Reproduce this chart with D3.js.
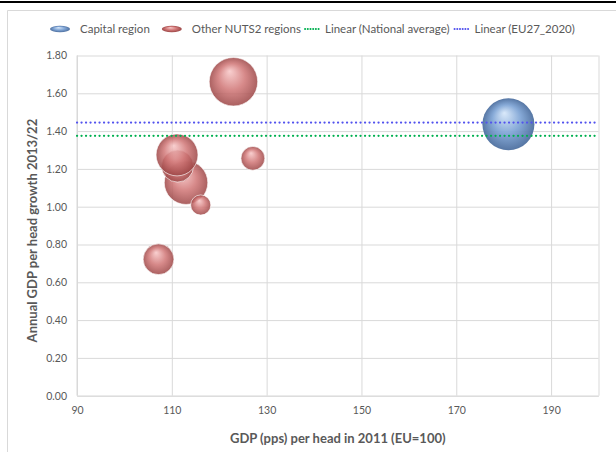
<!DOCTYPE html>
<html lang="en">
<head>
<meta charset="UTF-8">
<title>GDP growth bubbles</title>
<script src="https://cdn.jsdelivr.net/npm/d3@7"></script>
<style>
    body { margin: 0; background: #fff; }
    svg text { font-family: Lato, "Open Sans", sans-serif; }
    .axis text { fill: #595959; font-size: 10.5px; }
    .grid line { stroke: #d9d9d9; }
    .grid path { display: none; }
</style>
</head>
<body>
<script>
// capital region: gdp 2011, growth, bubble size
const capitalX = [181];
const capitalY = [1.436];
const capitalSize = [100];

// other NUTS2 regions (drawing order)
const otherX = [123, 127.1, 113, 111.2, 111.1, 116.1, 107.2];
const otherY = [1.661, 1.256, 1.127, 1.215, 1.274, 1.009, 0.722];
const otherSize = [87, 21, 70, 38, 65, 15, 35];

const nationalAvg = 1.375;
const eu27Avg = 1.445;

const xTicks = [90, 110, 130, 150, 170, 190];
const yTicks = [0, 0.2, 0.4, 0.6, 0.8, 1.0, 1.2, 1.4, 1.6, 1.8];

const w = 616, h = 452;
const padL = 77, padR = 598.5, padT = 55.5, padB = 395.7;

const svg = d3.select("body").append("svg")
    .attr("width", w)
    .attr("height", h);

// frame
svg.append("line").attr("x1", 0).attr("x2", w).attr("y1", 2).attr("y2", 2)
    .attr("stroke", "#000").attr("stroke-width", 2);
svg.append("path").attr("d", `M7.5,${h} V10.5 H${w}`)
    .attr("fill", "none").attr("stroke", "#d9d9d9");

const xScale = d3.scaleLinear().domain([90, 200]).range([padL, padR]);
const yScale = d3.scaleLinear().domain([0, 1.8]).range([padB, padT]);
const rScale = d3.scaleSqrt().domain([0, 100]).range([0, 26]);

// gradients
const defs = svg.append("defs");
function sphere(id, hi, mid, edge) {
    const g = defs.append("radialGradient").attr("id", id)
        .attr("cx", "50%").attr("cy", "50%").attr("r", "50%")
        .attr("fx", "42%").attr("fy", "28%");
    g.append("stop").attr("offset", "0%").attr("stop-color", hi);
    g.append("stop").attr("offset", "55%").attr("stop-color", mid);
    g.append("stop").attr("offset", "100%").attr("stop-color", edge);
}
sphere("blueBall", "#d8e8fa", "#80a5d5", "#4d6f9f");
sphere("redBall", "#f8c8c8", "#d07676", "#9c4646");

// grid
svg.append("g").attr("class", "grid")
    .attr("transform", `translate(0,${padB})`)
    .call(d3.axisBottom(xScale).tickValues(xTicks.concat([200])).tickSize(-(padB - padT)).tickFormat(""));
svg.append("g").attr("class", "grid")
    .attr("transform", `translate(${padL},0)`)
    .call(d3.axisLeft(yScale).tickValues(yTicks).tickSize(-(padR - padL)).tickFormat(""));
svg.append("line").attr("x1", padL).attr("x2", padL).attr("y1", padT).attr("y2", padB)
    .attr("stroke", "#d9d9d9");

// axes labels
const xAxis = svg.append("g").attr("class", "axis")
    .attr("transform", `translate(0,${padB})`)
    .call(d3.axisBottom(xScale).tickValues(xTicks).tickSize(0).tickPadding(11));
xAxis.select(".domain").attr("stroke", "#d9d9d9");
const yAxis = svg.append("g").attr("class", "axis")
    .attr("transform", `translate(${padL},0)`)
    .call(d3.axisLeft(yScale).tickValues(yTicks).tickSize(0).tickPadding(10).tickFormat(d3.format(".2f")));
yAxis.select(".domain").remove();

// trend lines
function hline(v, color) {
    svg.append("line")
        .attr("x1", xScale(90)).attr("x2", xScale(200))
        .attr("y1", yScale(v)).attr("y2", yScale(v))
        .attr("stroke", color).attr("stroke-width", 2.2)
        .attr("stroke-dasharray", "0.1 4.4").attr("stroke-linecap", "round");
}

// bubbles
const others = otherX.map((x, i) => ({ x: x, y: otherY[i], s: otherSize[i] }));
svg.append("g").selectAll("circle")
    .data(others).enter().append("circle")
    .attr("cx", d => xScale(d.x))
    .attr("cy", d => yScale(d.y))
    .attr("r", d => rScale(d.s))
    .attr("fill", "url(#redBall)")
    .attr("stroke", "#fff").attr("stroke-opacity", 0.7).attr("stroke-width", 0.9)
    .attr("fill-opacity", 0.86);

svg.append("g").selectAll("circle")
    .data(capitalX.map((x, i) => ({ x: x, y: capitalY[i], s: capitalSize[i] })))
    .enter().append("circle")
    .attr("cx", d => xScale(d.x))
    .attr("cy", d => yScale(d.y))
    .attr("r", d => rScale(d.s))
    .attr("fill", "url(#blueBall)")
    .attr("fill-opacity", 0.95);

hline(nationalAvg, "#00b050");
hline(eu27Avg, "#5353ee");

// axis titles
svg.append("text")
    .attr("x", (padL + padR) / 2).attr("y", 443)
    .attr("text-anchor", "middle")
    .attr("font-size", 13).attr("font-weight", "bold").attr("fill", "#595959")
    .text("GDP (pps) per head in 2011 (EU=100)");
svg.append("text")
    .attr("transform", `translate(37,${(padT + padB) / 2 + 5}) rotate(-90)`)
    .attr("text-anchor", "middle")
    .attr("font-size", 13).attr("font-weight", "bold").attr("fill", "#595959")
    .text("Annual GDP per head growth 2013/22");

// legend, laid out left to right
const lg = svg.append("g").attr("transform", "translate(0,29)");
let lx = 50;
function legendText(label, gapAfter) {
    const t = lg.append("text").attr("x", lx).attr("y", 4)
        .attr("font-size", 11.5).attr("fill", "#595959")
        .text(label);
    lx += t.node().getComputedTextLength() + gapAfter;
}
function legendBall(fill) {
    lg.append("ellipse").attr("cx", lx + 10).attr("cy", 0).attr("rx", 10).attr("ry", 3.2).attr("fill", fill);
    lx += 30;
}
function legendDots(color) {
    lg.append("line").attr("x1", lx + 1).attr("x2", lx + 17).attr("y1", 0).attr("y2", 0)
        .attr("stroke", color).attr("stroke-width", 2).attr("stroke-dasharray", "0.1 2.6").attr("stroke-linecap", "round");
    lx += 21;
}
legendBall("url(#blueBall)");
legendText("Capital region", 12);
legendBall("url(#redBall)");
legendText("Other NUTS2 regions", 3);
legendDots("#00b050");
legendText("Linear (National average)", 4);
legendDots("#5353ee");
legendText("Linear (EU27_2020)", 0);
</script>
</body>
</html>
